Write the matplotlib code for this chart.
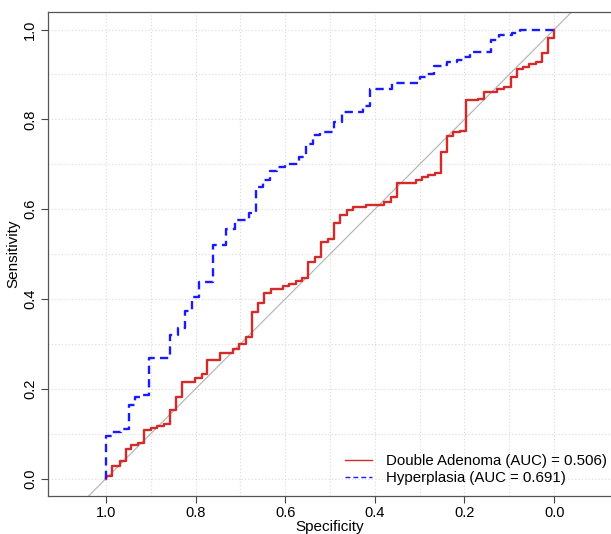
import matplotlib
matplotlib.use("Agg")
import matplotlib.pyplot as plt

plt.rcParams['font.family'] = ['Liberation Sans', 'DejaVu Sans']

# ROC curve corners (specificity, sensitivity)
adenoma_spec = [1.000, 1.000, 0.987, 0.969, 0.956, 0.943, 0.929, 0.915, 0.900, 0.885,
                0.871, 0.858, 0.843, 0.830, 0.801, 0.786, 0.774, 0.745, 0.717, 0.702,
                0.688, 0.673, 0.661, 0.647, 0.632, 0.604, 0.591, 0.576, 0.562, 0.550,
                0.533, 0.520, 0.505, 0.491, 0.477, 0.462, 0.448, 0.420, 0.379, 0.364,
                0.350, 0.309, 0.295, 0.281, 0.266, 0.253, 0.240, 0.225, 0.211, 0.197,
                0.169, 0.156, 0.127, 0.112, 0.097, 0.083, 0.069, 0.055, 0.040, 0.026,
                0.013, 0.000]
adenoma_sens = [0.000, 0.005, 0.028, 0.039, 0.065, 0.074, 0.080, 0.108, 0.112, 0.117,
                0.122, 0.153, 0.181, 0.215, 0.224, 0.232, 0.264, 0.279, 0.288, 0.300,
                0.315, 0.372, 0.391, 0.413, 0.422, 0.430, 0.433, 0.441, 0.446, 0.483,
                0.493, 0.526, 0.533, 0.569, 0.586, 0.598, 0.605, 0.610, 0.616, 0.628,
                0.659, 0.665, 0.671, 0.676, 0.681, 0.728, 0.762, 0.771, 0.775, 0.843,
                0.846, 0.862, 0.867, 0.873, 0.895, 0.912, 0.916, 0.924, 0.928, 0.947,
                0.981, 1.000]

hyper_spec = [1.000, 1.000, 0.987, 0.966, 0.949, 0.934, 0.920, 0.904, 0.856, 0.839,
              0.823, 0.807, 0.792, 0.760, 0.731, 0.712, 0.680, 0.665, 0.649, 0.634,
              0.618, 0.600, 0.569, 0.554, 0.539, 0.522, 0.491, 0.474, 0.426, 0.411,
              0.362, 0.299, 0.284, 0.269, 0.251, 0.238, 0.217, 0.202, 0.188, 0.141,
              0.124, 0.094, 0.076, 0.000]
hyper_sens = [0.000, 0.096, 0.105, 0.111, 0.163, 0.181, 0.186, 0.268, 0.320, 0.335,
              0.373, 0.404, 0.439, 0.520, 0.555, 0.575, 0.591, 0.650, 0.665, 0.684,
              0.695, 0.701, 0.717, 0.745, 0.765, 0.771, 0.795, 0.817, 0.829, 0.867,
              0.881, 0.895, 0.901, 0.918, 0.921, 0.927, 0.933, 0.938, 0.949, 0.977,
              0.987, 0.992, 0.998, 1.000]

labels = ['Double Adenoma (AUC) = 0.506)', 'Hyperplasia (AUC = 0.691)']
ticks = [1.0, 0.8, 0.6, 0.4, 0.2, 0.0]

fig = plt.figure(figsize=(6.11, 5.34), dpi=100)
ax = fig.add_axes([0.0786, 0.0712, 0.923, 0.9063])

# 网格和对角线
grid = [i / 10 for i in range(11)]
for g in grid:
    ax.axvline(g, color='#d9d9d9', lw=0.8, ls=(0, (1, 2)), zorder=0)
    ax.axhline(g, color='#d9d9d9', lw=0.8, ls=(0, (1, 2)), zorder=0)
ax.axline((1, 0), (0, 1), color='#b8b8b8', lw=0.9, zorder=1)

ax.step(adenoma_spec, adenoma_sens, where='post', color='#d42a2a', lw=1.7,
        label=labels[0], zorder=3)
ax.step(hyper_spec, hyper_sens, where='post', color='#1a1aff', lw=1.7,
        ls=(0, (3.5, 2.2)), label=labels[1], zorder=3)

ax.set_xlim(1.129, -0.129)
ax.set_ylim(-0.0385, 1.039)
ax.set_xticks(ticks)
ax.set_yticks(ticks)
ax.set_xticklabels(['%.1f' % t for t in ticks])
ax.set_yticklabels(['%.1f' % t for t in ticks], rotation=90, va='center')
ax.tick_params(axis='both', labelsize=10.5, length=5, width=0.8, color='#444444', pad=2)
ax.tick_params(axis='y', pad=3)
ax.set_xlabel('Specificity', fontsize=11, labelpad=0)
ax.set_ylabel('Sensitivity', fontsize=11, labelpad=2)
for s in ax.spines.values():
    s.set_color('#555555')
    s.set_linewidth(0.9)
ax.spines['right'].set_visible(False)

leg = ax.legend(loc='lower right', frameon=False, fontsize=10.8, handlelength=1.8,
                handletextpad=0.95, labelspacing=0.2, borderaxespad=0.3,
                bbox_to_anchor=(1.01, 0.0))
for h in leg.get_lines():
    h.set_linewidth(1.0)

fig.savefig('out.png', dpi=100)
